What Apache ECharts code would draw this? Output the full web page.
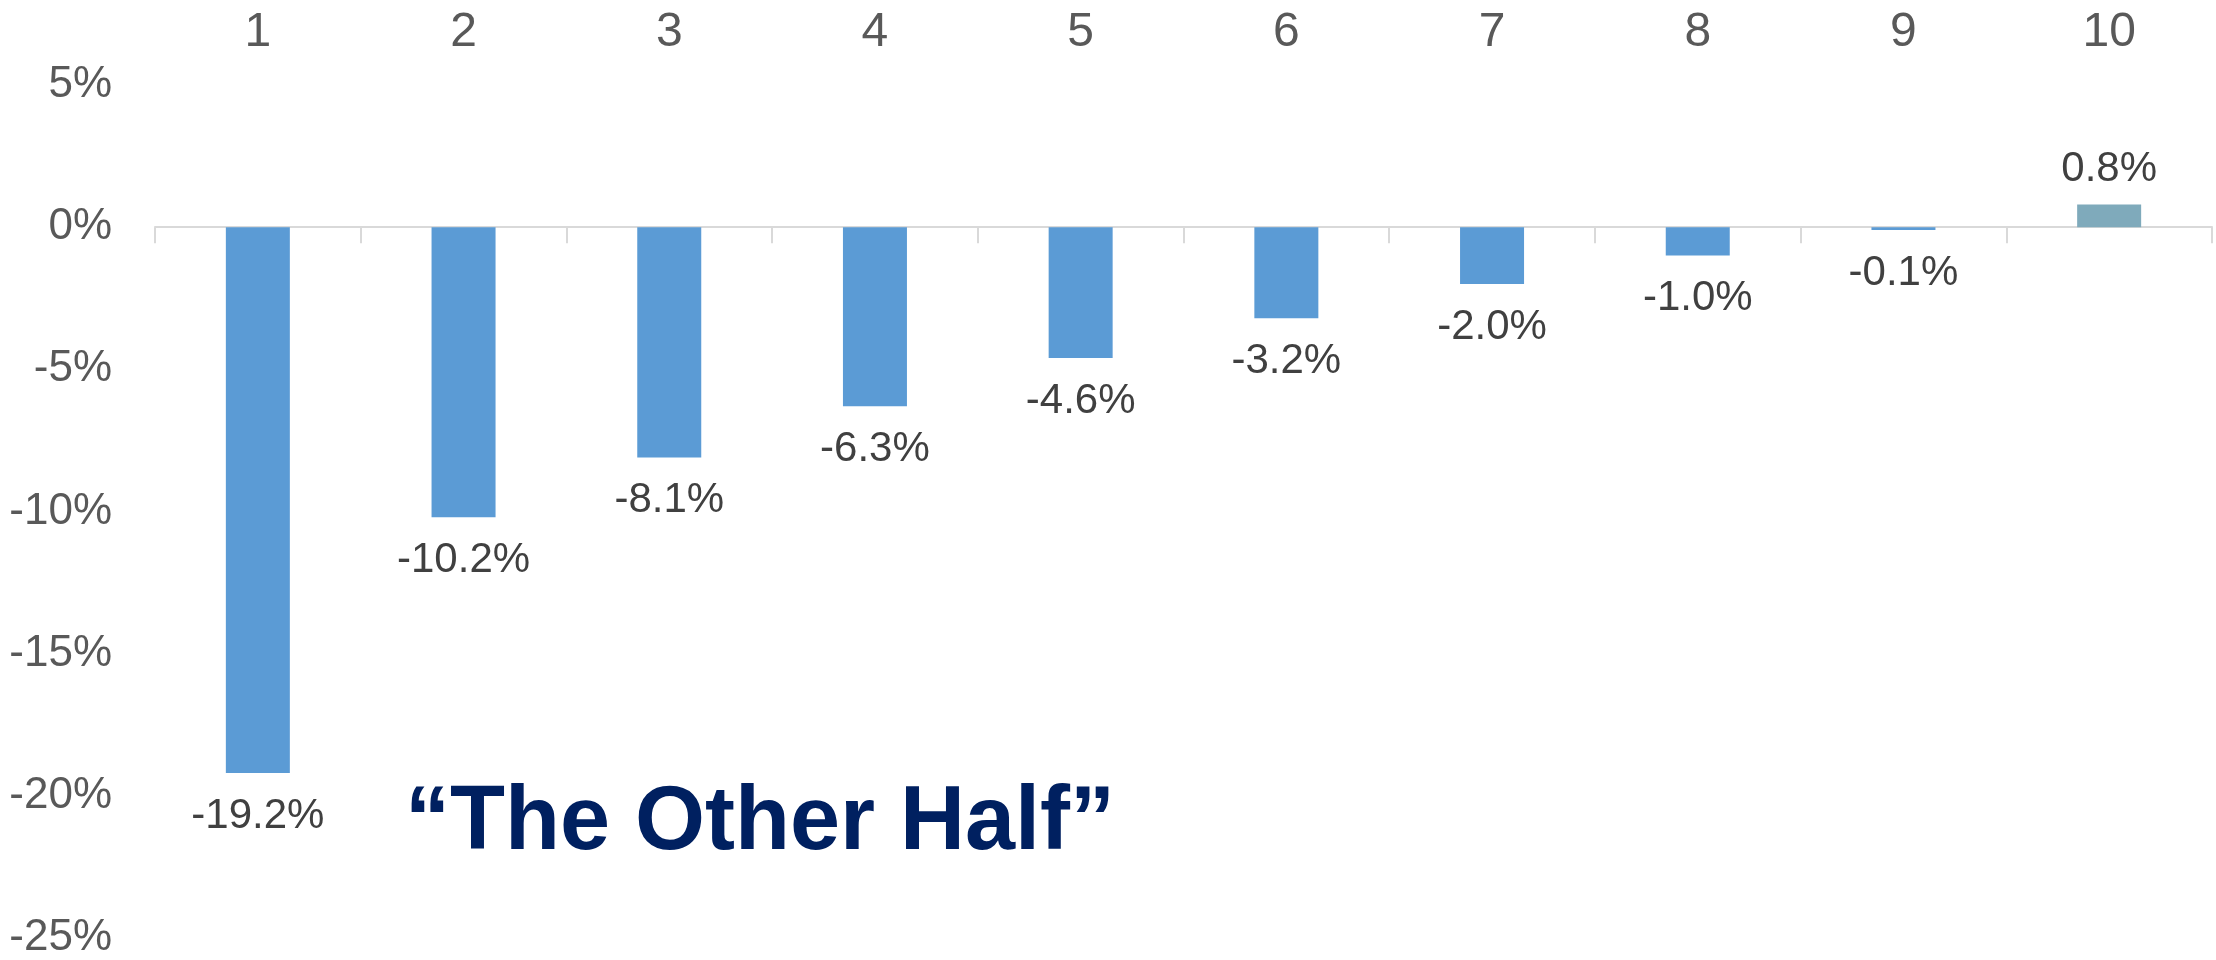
<!DOCTYPE html>
<html><head><meta charset="utf-8">
<script src="https://cdn.jsdelivr.net/npm/echarts@6/dist/echarts.min.js"></script>
<style>html,body{margin:0;padding:0;background:#fff}#c{width:2216px;height:960px}</style>
</head><body><div id="c"></div>
<script>
const categories = ['1','2','3','4','5','6','7','8','9','10'];
const values = [-19.2, -10.2, -8.1, -6.3, -4.6, -3.2, -2.0, -1.0, -0.1, 0.8];
const yMin = -25, yMax = 5, yStep = 5;
const annotation = '\u201CThe Other Half\u201D';

const chart = echarts.init(document.getElementById('c'));
chart.setOption({
  backgroundColor: '#ffffff',
  animation: false,
  title: {
    text: annotation, left: 400, top: 774,
    textStyle: { fontFamily: 'Liberation Sans', fontWeight: 'bold', fontSize: 90, color: '#002060' }
  },
  grid: { left: 155, right: 4, top: 85, bottom: 17 },
  xAxis: [{
    type: 'category', data: categories,
    axisLine: { onZero: true, lineStyle: { color: '#D9D9D9', width: 2 } },
    axisTick: { show: true, length: 16, lineStyle: { color: '#D9D9D9', width: 2 } },
    axisLabel: { show: false }
  }, {
    type: 'category', data: categories, position: 'top',
    axisLine: { show: false }, axisTick: { show: false },
    axisLabel: { margin: 28, fontFamily: 'Liberation Sans', fontSize: 48, color: '#595959' }
  }],
  yAxis: {
    type: 'value', min: yMin, max: yMax, interval: yStep,
    splitLine: { show: false }, axisLine: { show: false }, axisTick: { show: false },
    axisLabel: { margin: 43, formatter: '{value}%', fontFamily: 'Liberation Sans', fontSize: 44, color: '#595959' }
  },
  series: [{
    type: 'bar', xAxisIndex: 0, barWidth: 64,
    data: values.map((v, i) => ({
      value: v,
      itemStyle: { color: i === values.length - 1 ? '#7FAABB' : '#5B9BD5' },
      label: { position: v < 0 ? 'bottom' : 'top', distance: v < 0 ? 22 : 14 }
    })),
    label: {
      show: true, fontFamily: 'Liberation Sans', fontSize: 42, color: '#404040',
      formatter: p => p.value.toFixed(1) + '%'
    }
  }]
});
</script></body></html>
